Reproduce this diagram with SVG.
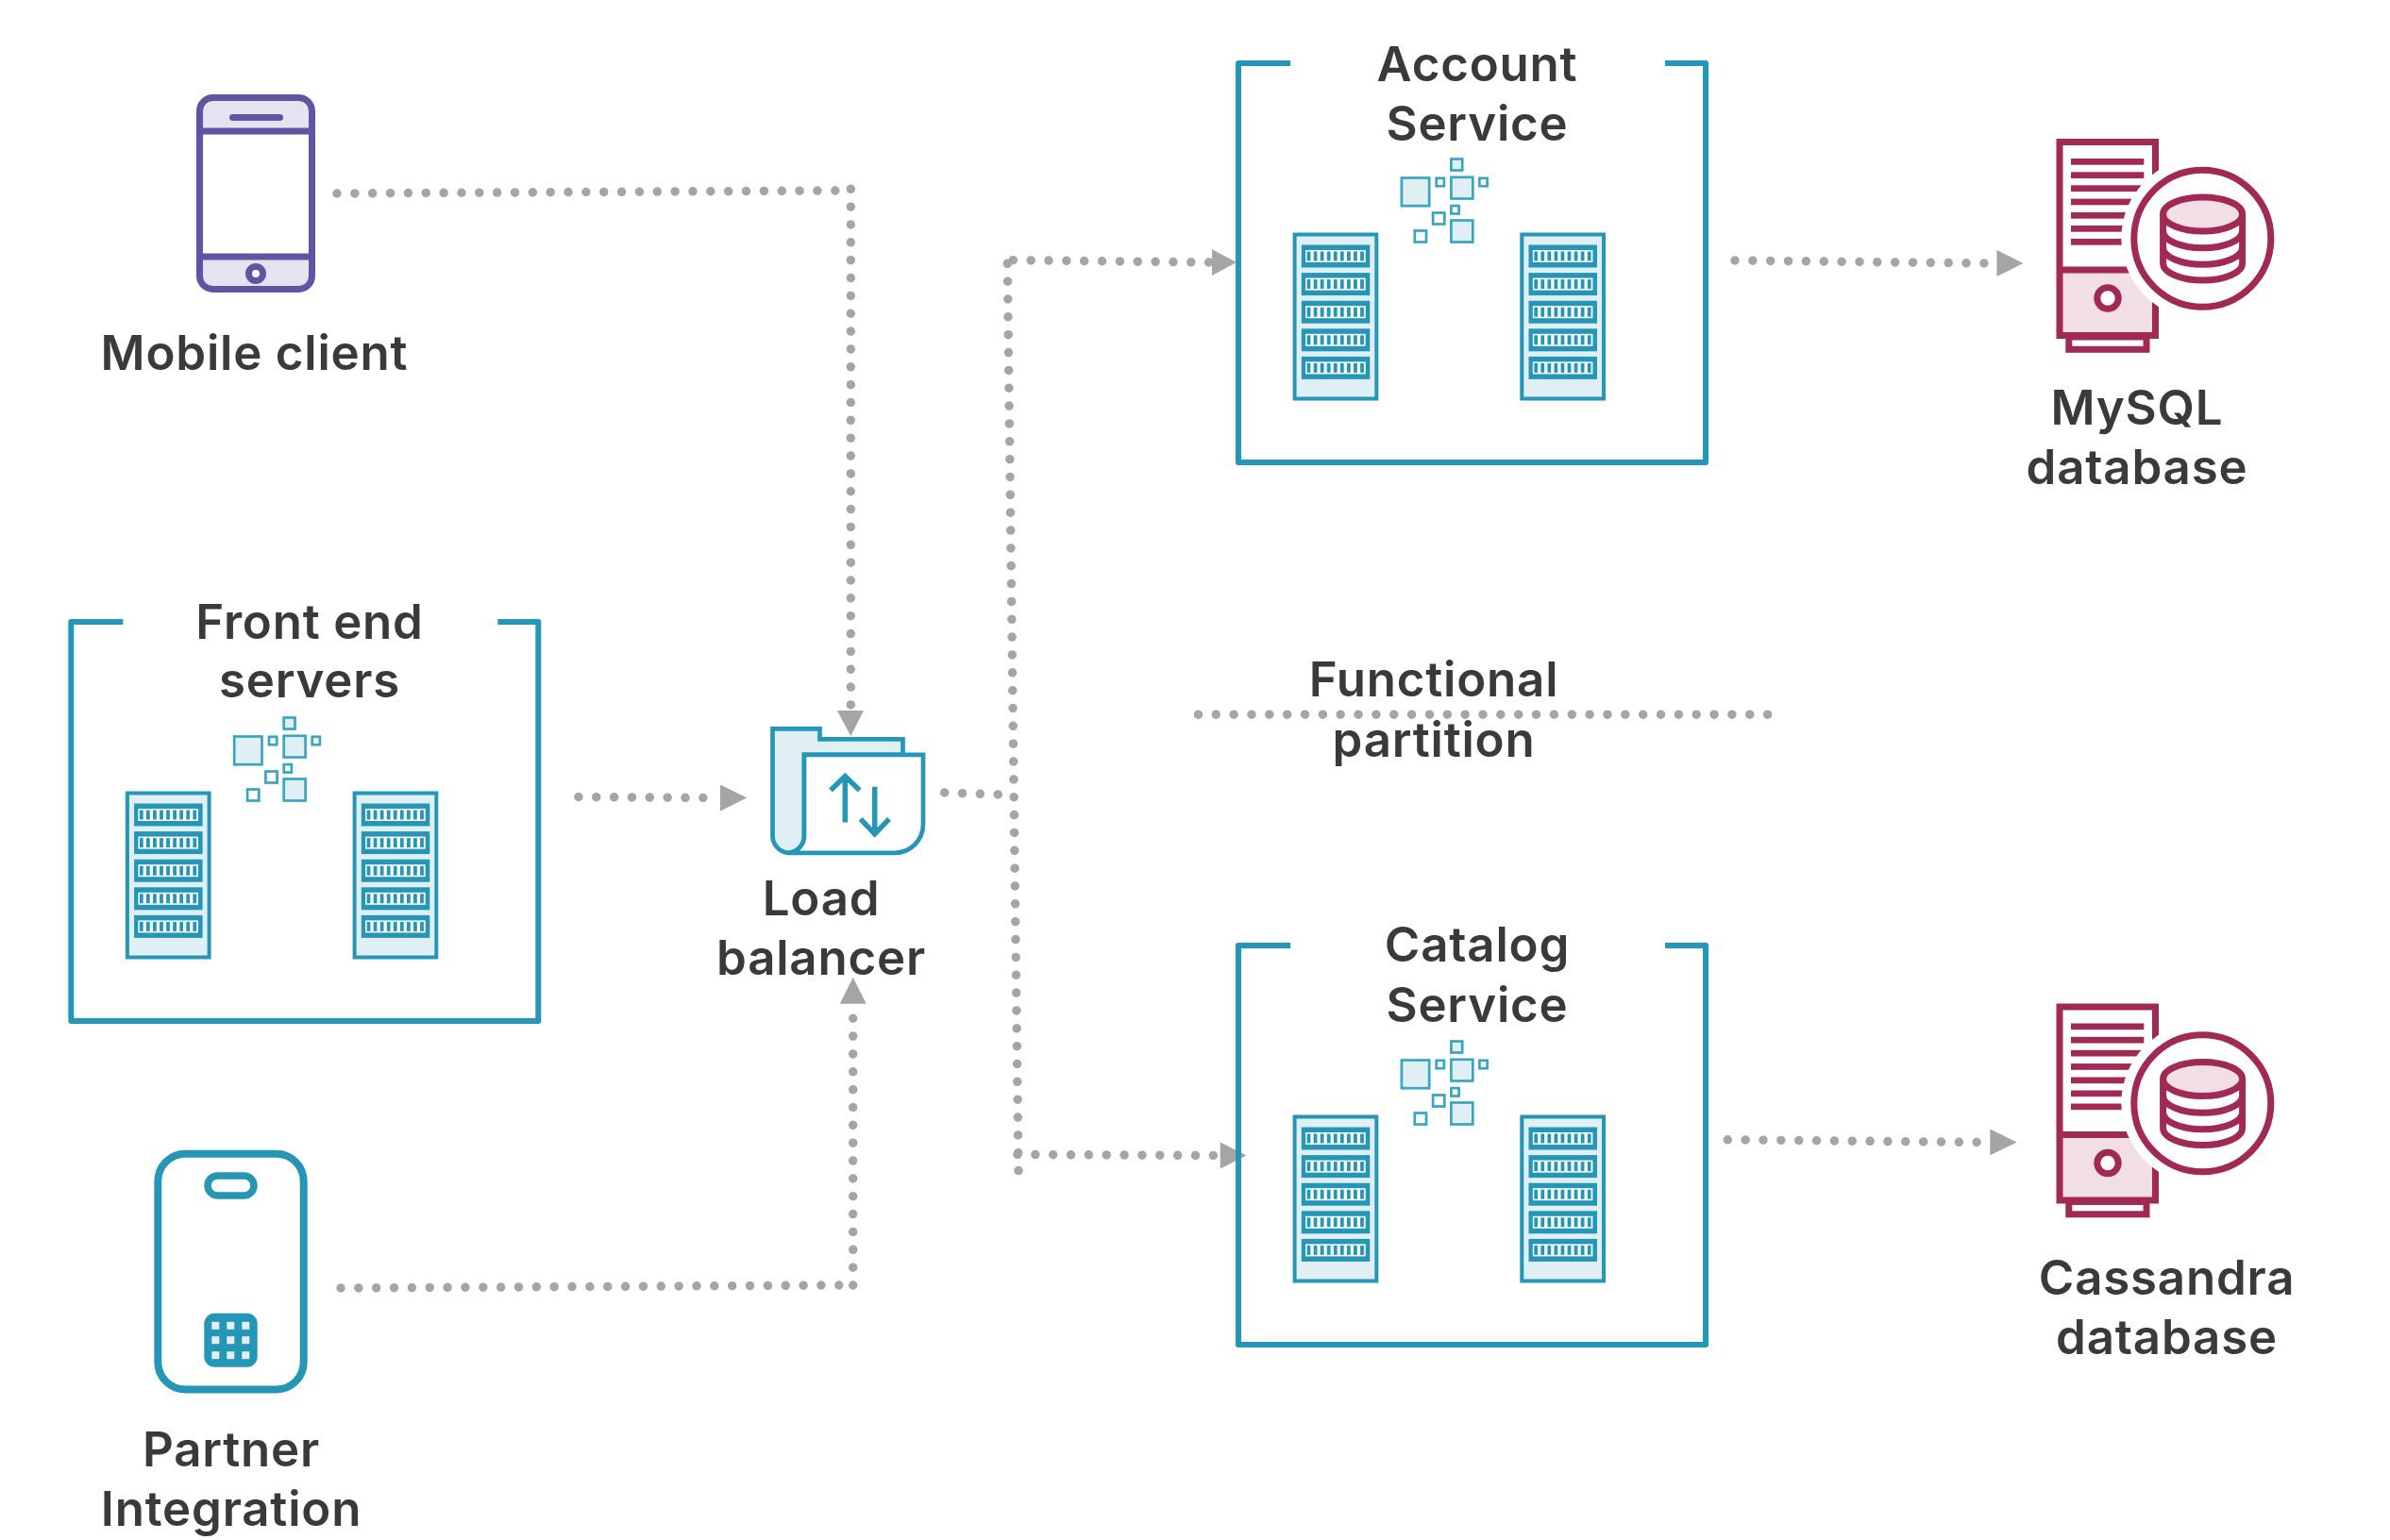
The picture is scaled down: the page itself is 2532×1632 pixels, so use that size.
<svg xmlns="http://www.w3.org/2000/svg" xmlns:xlink="http://www.w3.org/1999/xlink" width="2532" height="1632" viewBox="0 0 2532 1632">
<style>
text{font-family:"Inter","Liberation Sans",sans-serif;font-weight:600;font-size:51px;letter-spacing:.8px;fill:#3a3a3a;text-anchor:middle}
.dots{fill:none;stroke:#a5a5a5;stroke-width:9.5;stroke-linecap:round;stroke-dasharray:0 18.85}
.head{fill:#a5a5a5}
.box{fill:none;stroke:#2596b6;stroke-width:6;stroke-linejoin:round}
.rack{fill:#e0eff4;stroke:#2596b6;stroke-width:4}
.sq{fill:#e0eff4;stroke:#3aa5c2;stroke-width:2.7}
.sw{fill:#fff;stroke:#3aa5c2;stroke-width:2.7}
.t{fill:#2596b6}
.w{fill:#fff}
.p{fill:none;stroke:#6155a3;stroke-width:7}
.c{fill:none;stroke:#a02a55;stroke-width:7}
.cf{fill:#a02a55}
</style>
<defs>
<g id="slot">
<rect class="t" x="66.8" y="0" width="72.5" height="24"/>
<rect class="w" x="71.1" y="5.5" width="63.6" height="13"/>
<g class="t"><rect x="72.6" y="7" width="3.8" height="10"/><rect x="79.66" y="7" width="3.8" height="10"/><rect x="86.72" y="7" width="3.8" height="10"/><rect x="93.78" y="7" width="3.8" height="10"/><rect x="100.84" y="7" width="3.8" height="10"/><rect x="107.9" y="7" width="3.8" height="10"/><rect x="114.96" y="7" width="3.8" height="10"/><rect x="122.02" y="7" width="3.8" height="10"/><rect x="129.08" y="7" width="3.8" height="10"/></g>
</g>
<g id="rack">
<rect class="rack" x="59.6" y="180" width="86.7" height="174"/>
<use href="#slot" y="191"/><use href="#slot" y="220.6"/><use href="#slot" y="250.2"/><use href="#slot" y="279.8"/><use href="#slot" y="309.4"/>
</g>
<g id="cluster">
<path class="box" d="M55 0H0V423H495V0H452"/>
<g transform="translate(0 1.5)">
<use href="#rack"/>
<use href="#rack" x="240.7"/>
<rect class="sq" x="172.9" y="120" width="29.3" height="29.7"/>
<rect class="sq" x="225.4" y="100" width="11.8" height="12"/>
<rect class="sw" x="209.7" y="120.3" width="8.2" height="8.4"/>
<rect class="sq" x="225.4" y="119.3" width="22.9" height="22.7"/>
<rect class="sw" x="255.4" y="120.3" width="8.2" height="8.4"/>
<rect class="sw" x="225.4" y="149.6" width="8.2" height="8.4"/>
<rect class="sw" x="206.1" y="157" width="12.2" height="12"/>
<rect class="sw" x="186.8" y="176" width="12.2" height="12"/>
<rect class="sq" x="225.4" y="165" width="22.9" height="23"/>
</g>
</g>
<g id="db">
<rect class="c" x="2191.8" y="356" width="82.2" height="13.3"/>
<path d="M2182 285H2283.5V354.5H2182Z" fill="#f2dfe5"/>
<path class="c" d="M2182 354.5V149.5H2283.5V354.5Z"/>
<g class="cf">
<rect x="2194" y="167" width="77.3" height="6.7"/><rect x="2194" y="181.3" width="77.3" height="6.7"/><rect x="2194" y="195.3" width="77.3" height="6.7"/><rect x="2194" y="209.6" width="77.3" height="6.7"/><rect x="2194" y="224" width="77.3" height="6.7"/><rect x="2194" y="238" width="56" height="6.7"/><rect x="2194" y="252" width="56" height="6.7"/>
<rect x="2182" y="281.5" width="90" height="7"/>
</g>
<circle cx="2233" cy="315" r="11.2" fill="#fff" stroke="#a02a55" stroke-width="7"/>
<circle cx="2333.3" cy="251.7" r="86" fill="#fff"/>
<circle class="c" cx="2333.3" cy="251.7" r="72.5"/>
<path class="c" d="M2291.6 226v52a42 18 0 0 0 84 0v-52"/>
<path class="c" d="M2291.6 243.7a42 18 0 0 0 84 0M2291.6 261.3a42 18 0 0 0 84 0"/>
<ellipse cx="2333.6" cy="226" rx="42" ry="18" fill="#f2dfe5" stroke="#a02a55" stroke-width="7"/>
</g>
</defs>
<rect width="2532" height="1632" fill="#fff"/>
<g id="connectors">
<path class="dots" d="M357 205L885 202"/>
<path class="dots" d="M901.3 200.3V748"/>
<polygon class="head" points="887,753 915,753 901.3,780"/>
<path class="dots" d="M361 1365L890 1362"/>
<path class="dots" d="M903.7 1362V1079"/>
<polygon class="head" points="889.7,1063.7 917.7,1063.7 903.7,1035.7"/>
<path class="dots" d="M612.9 844.5L746 845.5"/>
<polygon class="head" points="763,831.5 763,859.5 791.3,845.5"/>
<path class="dots" d="M1000.7 840L1058 842"/>
<path class="dots" d="M1067.3 279.3L1079 1241"/>
<path class="dots" d="M1073.3 275.7L1281.5 278"/>
<polygon class="head" points="1284,264.3 1284,292 1310,278"/>
<path class="dots" d="M1078 1223.5L1286 1224.500"/>
<polygon class="head" points="1292.7,1210.5 1292.7,1238.5 1320.7,1224.5"/>
<path class="dots" d="M1838 276L2103 279"/>
<polygon class="head" points="2115.5,265 2115.5,293 2143.5,279"/>
<path class="dots" d="M1830.3 1207.8L2095 1210.5"/>
<polygon class="head" points="2108.3,1196.5 2108.3,1224.2 2136.7,1210.5"/>
<path class="dots" d="M1269.4 757.2H1874"/>
</g>
<g id="mobile-client">
<g transform="translate(0 1)">
<path d="M214 138V116a10 10 0 0 1 10-10H318a10 10 0 0 1 10 10V138ZM214 271V293a10 10 0 0 0 10 10H318a10 10 0 0 0 10-10V271Z" fill="#e6e3f1"/>
<rect class="p" x="211.5" y="102.5" width="119" height="203" rx="14"/>
<path class="p" d="M211.5 138H330.5M211.5 271H330.5"/>
<path class="p" d="M246.500 123.500H296.500" stroke-linecap="round"/>
<circle class="p" cx="271" cy="289" r="7.500" style="fill:#fff"/>
</g>
<text x="269.500" y="392">Mobile client</text>
</g>
<g id="front-end-servers">
<use href="#cluster" transform="translate(75.3 659)"/>
<text x="328" y="676.500">Front end</text>
<text x="328" y="739">servers</text>
</g>
<g id="load-balancer">
<g transform="translate(0 .8)">
<path d="M818.500 771.500H868.500V782.500H956.500V799H852V885a18 18 0 0 1-16 18a18 18 0 0 1-17.500-18Z" fill="#e0eff4" stroke="#2596b6" stroke-width="4.700"/>
<path d="M852 799H978V873a30 30 0 0 1-30 30H836a18 18 0 0 0 16-18Z" fill="#fff" stroke="#2596b6" stroke-width="4.700"/>
<path d="M895.300 870.700V824M880 836.700L895.300 821.700L910.700 836.700M926.700 833V880M911.700 867L926.700 883L942 867" fill="none" stroke="#2596b6" stroke-width="5.500"/>
</g>
<text x="870" y="970">Load</text>
<text x="870" y="1033">balancer</text>
</g>
<g id="partner-integration">
<g transform="translate(0 1.5)">
<rect x="167.300" y="1221.300" width="154.400" height="249.700" rx="29" fill="none" stroke="#2596b6" stroke-width="8"/>
<rect x="220" y="1244.400" width="49" height="21" rx="10.500" fill="none" stroke="#2596b6" stroke-width="7.500"/>
<rect class="t" x="216.300" y="1390.300" width="56.400" height="57" rx="11"/>
<g fill="#e0eff4"><rect x="224.300" y="1399.300" width="8" height="8"/><rect x="240.300" y="1399.300" width="8" height="8"/><rect x="256.300" y="1399.300" width="8" height="8"/><rect x="224.300" y="1414.700" width="8" height="8"/><rect x="240.300" y="1414.700" width="8" height="8"/><rect x="256.300" y="1414.700" width="8" height="8"/><rect x="224.300" y="1430.700" width="8" height="8"/><rect x="240.300" y="1430.700" width="8" height="8"/><rect x="256.300" y="1430.700" width="8" height="8"/></g>
</g>
<text x="245" y="1553.500">Partner</text>
<text x="245" y="1616.500">Integration</text>
</g>
<g id="account-service">
<use href="#cluster" transform="translate(1312 67)"/>
<text x="1565" y="86">Account</text>
<text x="1565" y="149">Service</text>
</g>
<g id="catalog-service">
<use href="#cluster" transform="translate(1312 1002)"/>
<text x="1565" y="1019">Catalog</text>
<text x="1565" y="1082.500">Service</text>
</g>
<g id="functional-partition">
<text x="1519" y="738">Functional</text>
<text x="1519" y="801.500">partition</text>
</g>
<g id="mysql-database">
<use href="#db" y="1"/>
<text x="2264" y="449.500">MySQL</text>
<text x="2264" y="512.500">database</text>
</g>
<g id="cassandra-database">
<use href="#db" y="917.500"/>
<text x="2295.500" y="1371.500">Cassandra</text>
<text x="2295.500" y="1434.500">database</text>
</g>
</svg>
